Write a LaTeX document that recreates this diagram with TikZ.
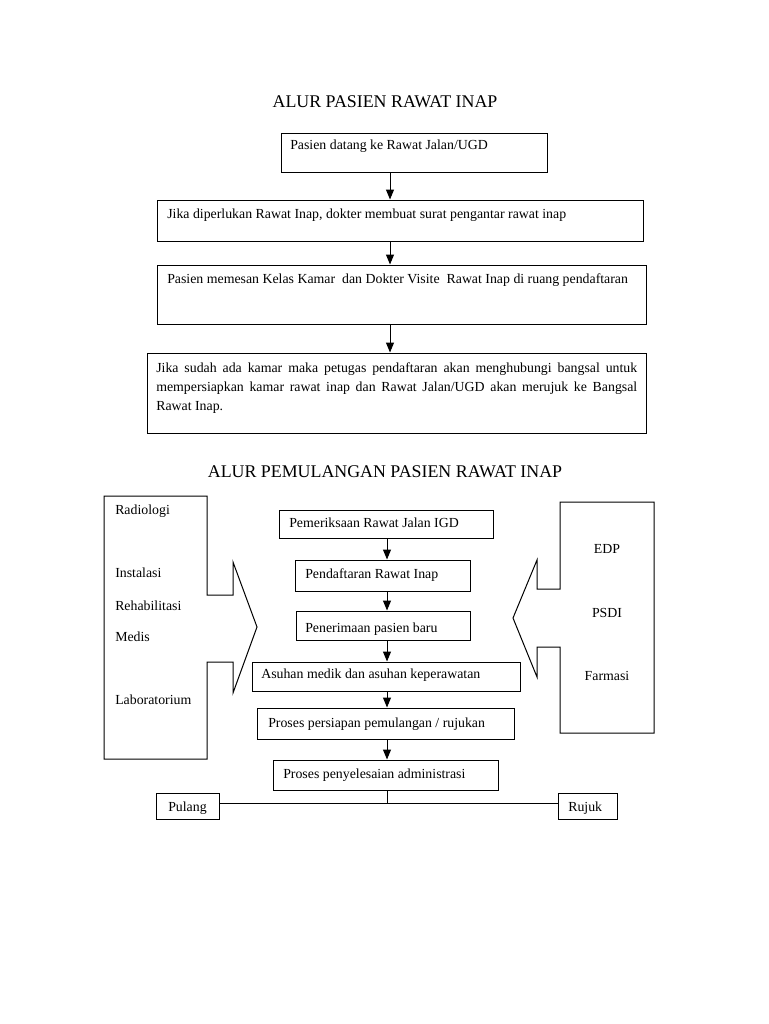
\documentclass[tikz,border=0pt]{standalone}
\usepackage{fontspec}
\setmainfont{Liberation Serif}
\usetikzlibrary{fit,arrows.meta}
\begin{document}
\begin{tikzpicture}[x=0.75pt,y=-0.75pt,
  every node/.style={inner sep=0pt},
  bx/.style={draw, line width=0.75pt, inner sep=0pt},
  txt/.style={anchor=base west, font=\fontsize{10.38pt}{14.25pt}\selectfont},
  ctxt/.style={anchor=base, font=\fontsize{10.38pt}{14.25pt}\selectfont},
  ttl/.style={anchor=base, font=\fontsize{13.4pt}{16pt}\selectfont},
  arr/.style={line width=0.75pt, -{Triangle[length=7.5pt,width=6pt]}},
  ln/.style={line width=0.75pt},
  call/.style={line width=0.75pt, line join=miter}]
\useasboundingbox (0,0) rectangle (768,1024);
\fill[white] (0,0) rectangle (768,1024);

% ---- Part 1 ----
\node[ttl] (t1) at (385,108) {ALUR PASIEN RAWAT INAP};

\node[bx, fit={(281,133) (547,172)}] (b1) {};
\node[bx, fit={(157,200) (643,241)}] (b2) {};
\node[bx, fit={(157,265) (646,324)}] (b3) {};
\node[bx, fit={(147,353) (646,433)}] (b4) {};

\node[txt] (l1) at (290,149) {Pasien datang ke Rawat Jalan/UGD};
\node[txt] (l2) at (167,218) {Jika diperlukan Rawat Inap, dokter membuat surat pengantar rawat inap};
\node[txt] (l3) at (167,283) {Pasien memesan Kelas Kamar\ \ dan Dokter Visite\ \ Rawat Inap di ruang pendaftaran};
\node[txt] (l4a) at (156,372) {\makebox[360.75pt][s]{Jika sudah ada kamar maka petugas pendaftaran akan menghubungi bangsal untuk}};
\node[txt] (l4b) at (156,391) {\makebox[360.75pt][s]{mempersiapkan kamar rawat inap dan Rawat Jalan/UGD akan merujuk ke Bangsal}};
\node[txt] (l4c) at (156,410) {Rawat Inap.};

\coordinate (ax) at (390,0);
\draw[arr] (b1.south -| ax) -- (b2.north -| ax);
\draw[arr] (b2.south -| ax) -- (b3.north -| ax);
\draw[arr] (b3.south -| ax) -- (b4.north -| ax);

% ---- Part 2 ----
\node[ttl] (t2) at (385,477) {ALUR PEMULANGAN PASIEN RAWAT INAP};

% left callout
\draw[call] (104,496) -- (207,496) -- (207,595) -- (233,595) -- (233,562) -- (257,627)
  -- (233,693) -- (233,662) -- (207,662) -- (207,759) -- (104,759) -- cycle;
\node[txt] (r1) at (115,514) {Radiologi};
\node[txt] (r2) at (115,577) {Instalasi};
\node[txt] (r3) at (115,610) {Rehabilitasi};
\node[txt] (r4) at (115,641) {Medis};
\node[txt] (r5) at (115,704) {Laboratorium};

% right callout
\draw[call] (560,502) -- (654,502) -- (654,733) -- (560,733) -- (560,647) -- (537,647)
  -- (537,677) -- (513,618) -- (537,560) -- (537,589) -- (560,589) -- cycle;
\node[ctxt] (s1) at (607,553) {EDP};
\node[ctxt] (s2) at (607,617) {PSDI};
\node[ctxt] (s3) at (607,680) {Farmasi};

% central flow
\node[bx, fit={(279,510) (493,538)}] (ca) {};
\node[bx, fit={(295,560) (470,591)}] (cb) {};
\node[bx, fit={(296,611) (470,640)}] (cc) {};
\node[bx, fit={(252,662) (520,691)}] (cd) {};
\node[bx, fit={(257,708) (514,739)}] (ce) {};
\node[bx, fit={(273,760) (498,790)}] (cf) {};
\node[bx, fit={(156,793) (219,819)}] (pul) {};
\node[bx, fit={(558,793) (617,819)}] (ruj) {};

\node[txt] (ta) at (289,527) {Pemeriksaan Rawat Jalan IGD};
\node[txt] (tb) at (305,578) {Pendaftaran Rawat Inap};
\node[txt] (tc) at (305,632) {Penerimaan pasien baru};
\node[txt] (td) at (261,678) {Asuhan medik dan asuhan keperawatan};
\node[txt] (te) at (268,727) {Proses persiapan pemulangan / rujukan};
\node[txt] (tf) at (283,778) {Proses penyelesaian administrasi};
\node[txt] (tp) at (168,811) {Pulang};
\node[txt] (tr) at (568,811) {Rujuk};

\coordinate (bx2) at (387,0);
\draw[arr] (ca.south -| bx2) -- (cb.north -| bx2);
\draw[arr] (cb.south -| bx2) -- (cc.north -| bx2);
\draw[arr] (cc.south -| bx2) -- (cd.north -| bx2);
\draw[arr] (cd.south -| bx2) -- (ce.north -| bx2);
\draw[arr] (ce.south -| bx2) -- (cf.north -| bx2);

\coordinate (hy) at (0,803);
\draw[ln] (pul.east |- hy) -- (ruj.west |- hy);
\draw[ln] (cf.south -| bx2) -- (bx2 |- hy);
\end{tikzpicture}
\end{document}
